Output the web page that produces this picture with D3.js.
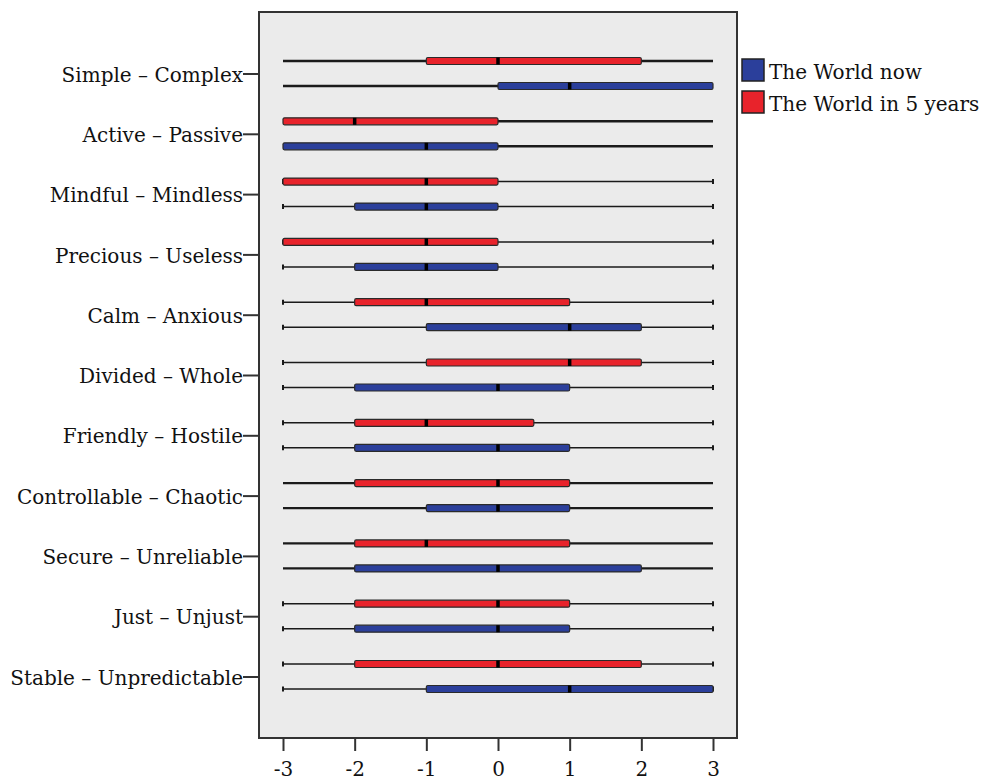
<!DOCTYPE html>
<html>
<head>
<meta charset="utf-8">
<script src="https://cdn.jsdelivr.net/npm/d3@7"></script>
<style>
  html, body { margin: 0; padding: 0; background: #fff; overflow: hidden; }
  svg { display: block; }
  text { font-family: "DejaVu Serif", "Liberation Serif", serif; fill: #111; }
</style>
</head>
<body>
<svg id="chart" width="986" height="782"></svg>
<script>
// Semantic differential pairs, top to bottom
const categories = [
  "Simple – Complex",
  "Active – Passive",
  "Mindful – Mindless",
  "Precious – Useless",
  "Calm – Anxious",
  "Divided – Whole",
  "Friendly – Hostile",
  "Controllable – Chaotic",
  "Secure – Unreliable",
  "Just – Unjust",
  "Stable – Unpredictable"
];

const seriesNames = ["The World in 5 years", "The World now"];
const legendOrder = ["The World now", "The World in 5 years"];

// Five-number summaries per pair: [min, Q1, median, Q3, max]
const inFiveYears = [
  [-3, -1,  0, 2,   3],
  [-3, -3, -2, 0,   3],
  [-3, -3, -1, 0,   3],
  [-3, -3, -1, 0,   3],
  [-3, -2, -1, 1,   3],
  [-3, -1,  1, 2,   3],
  [-3, -2, -1, 0.5, 3],
  [-3, -2,  0, 1,   3],
  [-3, -2, -1, 1,   3],
  [-3, -2,  0, 1,   3],
  [-3, -2,  0, 2,   3]
];

const worldNow = [
  [-3,  0,  1, 3, 3],
  [-3, -3, -1, 0, 3],
  [-3, -2, -1, 0, 3],
  [-3, -2, -1, 0, 3],
  [-3, -1,  1, 2, 3],
  [-3, -2,  0, 1, 3],
  [-3, -2,  0, 1, 3],
  [-3, -1,  0, 1, 3],
  [-3, -2,  0, 2, 3],
  [-3, -2,  0, 1, 3],
  [-3, -1,  1, 3, 3]
];

const xTicks = [-3, -2, -1, 0, 1, 2, 3];

const colors = { "The World now": "#2b3f9b", "The World in 5 years": "#e8232b" };

const svg = d3.select("#chart");

const frame = { left: 259, right: 737, top: 12, bottom: 738 };

const x = d3.scaleLinear().domain([-3, 3]).range([283, 713]);
const y = d3.scalePoint().domain(categories).range([frame.top, frame.bottom]).padding(1.02);
const sub = d3.scalePoint().domain(seriesNames).range([-12.5, 12.5]);

// Pairs whose whiskers are drawn heavier, without end caps
const heavyWhiskers = new Set([
  "Simple – Complex", "Active – Passive", "Controllable – Chaotic", "Secure – Unreliable"
]);

// plot background
svg.append("rect")
  .attr("x", frame.left).attr("y", frame.top)
  .attr("width", frame.right - frame.left).attr("height", frame.bottom - frame.top)
  .attr("fill", "#ebebeb");

const rows = [];
categories.forEach((c, i) => {
  rows.push({ cat: c, series: seriesNames[0], s: inFiveYears[i] });
  rows.push({ cat: c, series: seriesNames[1], s: worldNow[i] });
});

const boxH = 7;
const g = svg.append("g");

rows.forEach(r => {
  const cy = y(r.cat) + sub(r.series);
  const heavy = heavyWhiskers.has(r.cat);
  const [mn, q1, md, q3, mx] = r.s;
  const grp = g.append("g");
  // whiskers
  grp.append("line")
    .attr("x1", x(mn)).attr("x2", x(mx)).attr("y1", cy).attr("y2", cy)
    .attr("stroke", "#1a1a1a").attr("stroke-width", heavy ? 2.4 : 1.5);
  if (!heavy) {
    [mn, mx].forEach(v => {
      grp.append("line")
        .attr("x1", x(v)).attr("x2", x(v)).attr("y1", cy - 2.5).attr("y2", cy + 2.5)
        .attr("stroke", "#1a1a1a").attr("stroke-width", 2);
    });
  }
  // box
  grp.append("rect")
    .attr("x", x(q1)).attr("y", cy - boxH / 2)
    .attr("width", x(q3) - x(q1)).attr("height", boxH)
    .attr("rx", 1.5)
    .attr("fill", colors[r.series])
    .attr("stroke", "#2a2a2a").attr("stroke-width", 1.2);
  // median
  grp.append("rect")
    .attr("x", x(md) - 1.75).attr("y", cy - boxH / 2)
    .attr("width", 3.5).attr("height", boxH)
    .attr("fill", "#000");
});

// frame
svg.append("rect")
  .attr("x", frame.left).attr("y", frame.top)
  .attr("width", frame.right - frame.left).attr("height", frame.bottom - frame.top)
  .attr("fill", "none").attr("stroke", "#333").attr("stroke-width", 2);

// left category axis
const yAxis = d3.axisLeft(y).tickSize(16).tickPadding(0);
const ya = svg.append("g").attr("transform", `translate(${frame.left},0)`).call(yAxis);
ya.select(".domain").remove();
ya.selectAll(".tick line").attr("stroke", "#333").attr("stroke-width", 2);
ya.selectAll(".tick text")
  .attr("font-size", 20).attr("fill", "#111").attr("dy", "0.38em")
  .style("font-family", '"DejaVu Serif", serif');

// bottom value axis
const xAxis = d3.axisBottom(x).tickValues(xTicks).tickSize(13).tickPadding(11).tickFormat(d => String(d));
const xa = svg.append("g").attr("transform", `translate(0,${frame.bottom})`).call(xAxis);
xa.select(".domain").remove();
xa.selectAll(".tick line").attr("stroke", "#333").attr("stroke-width", 2);
xa.selectAll(".tick text")
  .attr("font-size", 20).attr("fill", "#111")
  .style("font-family", '"DejaVu Serif", serif');

// legend
const lg = svg.append("g").attr("transform", "translate(741,58)");
legendOrder.forEach((name, i) => {
  const row = lg.append("g").attr("transform", `translate(0,${i * 32})`);
  row.append("rect").attr("x", 1).attr("y", 1).attr("width", 22).attr("height", 22)
    .attr("fill", colors[name]).attr("stroke", "#222").attr("stroke-width", 1.5);
  row.append("text").attr("x", 28).attr("y", 21)
    .attr("font-size", 20).text(name);
});
</script>
</body>
</html>
